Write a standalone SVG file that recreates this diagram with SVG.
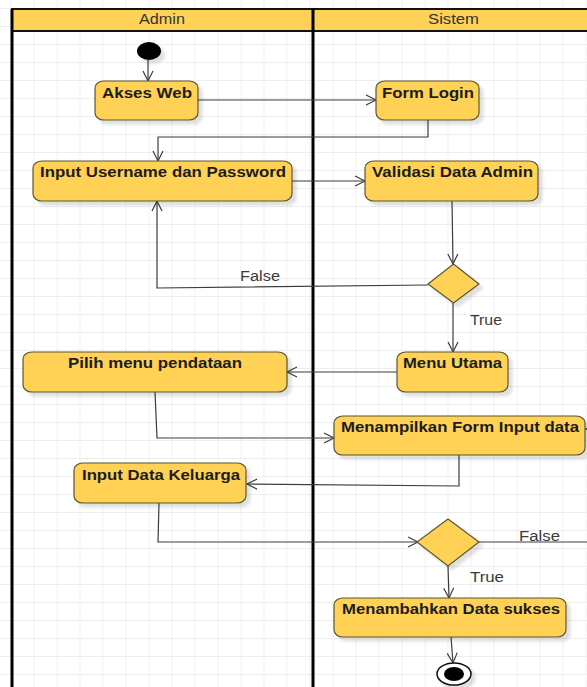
<svg xmlns="http://www.w3.org/2000/svg" width="587" height="687" viewBox="0 0 587 687">
<style>
.node{fill:#FFD257;stroke:#5b5531;stroke-width:1.2;filter:url(#sh)}
.lbl{font-family:"Liberation Sans",Arial,sans-serif;font-size:14.5px;font-weight:bold;fill:#1c1c1c}
.el{font-family:"Liberation Sans",Arial,sans-serif;font-size:14px;fill:#3a3a3a}
.lane{font-family:"Liberation Sans",Arial,sans-serif;font-size:14px;fill:#333}
.conn path{fill:none;stroke:#3c3c3c;stroke-width:1.2;marker-end:url(#arr)}
.pool{stroke:#000;stroke-width:3;fill:none}
</style>
<defs>
<pattern id="grid" patternUnits="userSpaceOnUse" x="10.5" y="8" width="23" height="18">
<path d="M0,0 V18 M0,0 H23" fill="none" stroke="#e9e9e9" stroke-width="1.3"/>
</pattern>
<filter id="sh" x="-20%" y="-20%" width="150%" height="160%">
<feDropShadow dx="4" dy="4" stdDeviation="1.5" flood-color="#000" flood-opacity="0.12"/>
</filter>
<marker id="arr" markerUnits="userSpaceOnUse" markerWidth="14" markerHeight="14" refX="11" refY="6" orient="auto">
<path d="M1,1 L11,6 L1,11" fill="none" stroke="#3c3c3c" stroke-width="1.2"/>
</marker>
</defs>
<rect width="587" height="687" fill="#fff"/>
<rect width="587" height="687" fill="url(#grid)"/>

<g id="pool">
<rect x="12" y="9" width="301" height="22" fill="#FFD257" stroke="#111" stroke-width="2"/>
<rect x="313" y="9" width="290" height="22" fill="#FFD257" stroke="#111" stroke-width="2"/>
<text class="lane" x="139" y="24" textLength="46" lengthAdjust="spacingAndGlyphs">Admin</text>
<text class="lane" x="428" y="24" textLength="51" lengthAdjust="spacingAndGlyphs">Sistem</text>
<path class="pool" d="M12,9 V687 M313,9 V687"/>
</g>

<g class="conn" id="connectors">
<path d="M148,60 V81"/>
<path d="M198,100 H376"/>
<path d="M428,120 V137 H158 V161"/>
<path d="M292,181 H365"/>
<path d="M452,201 L453,264"/>
<path d="M428,285 L157,288 V201"/>
<path d="M453,303 V352"/>
<path d="M397,372 H287"/>
<path d="M155,392 L157,438 H334"/>
<path d="M459,455 V486 L247,484"/>
<path d="M159,503 L158,542 H418"/>
<path d="M448,566 L449,598"/>
<path d="M479,542 H600 V429 H586"/>
<path d="M451,637 L453,663"/>
<text class="el" x="240" y="281" textLength="40" lengthAdjust="spacingAndGlyphs">False</text>
<text class="el" x="470" y="325" textLength="32" lengthAdjust="spacingAndGlyphs">True</text>
<text class="el" x="519" y="541" textLength="41" lengthAdjust="spacingAndGlyphs">False</text>
<text class="el" x="470" y="582" textLength="34" lengthAdjust="spacingAndGlyphs">True</text>
</g>

<g id="start">
<ellipse cx="149" cy="51" rx="12" ry="9" fill="#000" filter="url(#sh)"/>
</g>

<g id="akses-web">
<rect class="node" x="95" y="81" width="103" height="39" rx="9" ry="7"/>
<text class="lbl" x="102" y="98" textLength="90" lengthAdjust="spacingAndGlyphs">Akses Web</text>
</g>

<g id="form-login">
<rect class="node" x="376" y="81" width="103" height="39" rx="9" ry="7"/>
<text class="lbl" x="382" y="98" textLength="92" lengthAdjust="spacingAndGlyphs">Form Login</text>
</g>

<g id="input-username">
<rect class="node" x="33" y="161" width="259" height="40" rx="9" ry="7"/>
<text class="lbl" x="40" y="177" textLength="246" lengthAdjust="spacingAndGlyphs">Input Username dan Password</text>
</g>

<g id="validasi">
<rect class="node" x="365" y="161" width="173" height="40" rx="9" ry="7"/>
<text class="lbl" x="372" y="177" textLength="161" lengthAdjust="spacingAndGlyphs">Validasi Data Admin</text>
</g>

<g id="decision1">
<polygon class="node" points="453.5,264 479,284 453.5,303 428,284"/>
</g>

<g id="pilih-menu">
<rect class="node" x="23" y="352" width="264" height="40" rx="9" ry="7"/>
<text class="lbl" x="68" y="368" textLength="174" lengthAdjust="spacingAndGlyphs">Pilih menu pendataan</text>
</g>

<g id="menu-utama">
<rect class="node" x="397" y="352" width="111" height="40" rx="9" ry="7"/>
<text class="lbl" x="403" y="368" textLength="99" lengthAdjust="spacingAndGlyphs">Menu Utama</text>
</g>

<g id="menampilkan-form">
<rect class="node" x="334" y="416" width="251" height="39" rx="9" ry="7"/>
<text class="lbl" x="341" y="432" textLength="238" lengthAdjust="spacingAndGlyphs">Menampilkan Form Input data</text>
</g>

<g id="input-data-keluarga">
<rect class="node" x="74" y="463" width="172" height="40" rx="9" ry="7"/>
<text class="lbl" x="82" y="480" textLength="158" lengthAdjust="spacingAndGlyphs">Input Data Keluarga</text>
</g>

<g id="decision2">
<polygon class="node" points="448,519 479,542 448,566 417,542"/>
</g>

<g id="menambahkan">
<rect class="node" x="334" y="598" width="232" height="39" rx="9" ry="7"/>
<text class="lbl" x="342" y="614" textLength="218" lengthAdjust="spacingAndGlyphs">Menambahkan Data sukses</text>
</g>

<g id="end">
<ellipse cx="454" cy="674" rx="17" ry="11" fill="#fff" stroke="#111" stroke-width="1.5" filter="url(#sh)"/>
<ellipse cx="454" cy="674" rx="10" ry="7" fill="#000"/>
</g>
</svg>
